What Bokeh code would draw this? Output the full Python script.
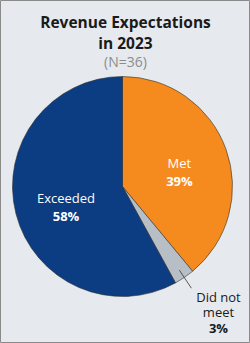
import math
from bokeh.plotting import figure
from bokeh.models import ColumnDataSource
from bokeh.core.properties import value
from bokeh.embed import file_html
from bokeh.resources import INLINE

# ---- data ----
title_lines = ["Revenue Expectations", "in 2023"]
subtitle = "(N=36)"
categories = ["Met", "Did not meet", "Exceeded"]
shares = [39, 3, 58]
colors = ["#F58A1F", "#B8BEC5", "#0C3C82"]

W, H = 250, 343
FONT = "Open Sans"

p = figure(width=W, height=H, x_range=(0, W), y_range=(0, H),
           output_backend="svg", toolbar_location=None, min_border=0)
p.axis.visible = False
p.grid.visible = False
p.background_fill_color = "#E6EAEE"
p.border_fill_color = "#E6EAEE"
p.outline_line_color = "#8A8A8A"
p.outline_line_width = 1


def Y(py):
    return H - py


cx, cy, R = 122, Y(186), 110

# angles: start at 12 o'clock, go clockwise
total = sum(shares)
starts, ends, mids = [], [], []
acc = 0.0
for s in shares:
    a0 = math.pi / 2 - 2 * math.pi * acc / total
    acc += s
    a1 = math.pi / 2 - 2 * math.pi * acc / total
    starts.append(a0)
    ends.append(a1)
    mids.append((a0 + a1) / 2)

src = ColumnDataSource(dict(start=starts, end=ends, color=colors))
p.wedge(x=cx, y=cy, radius=R, start_angle="start", end_angle="end",
        direction="clock", fill_color="color", line_color="#333333",
        line_width=0.6, source=src)

# title
p.text(x=[W / 2, W / 2], y=[Y(21), Y(42)], text=title_lines, text_font=value(FONT),
       text_font_style="bold", text_font_size="15.5px", text_color="#1A1A1A",
       text_align="center", text_baseline="alphabetic")
p.text(x=[W / 2], y=[Y(61)], text=[subtitle], text_font=value(FONT),
       text_font_size="14px", text_color="#8C8C8C",
       text_align="center", text_baseline="alphabetic")


def lab(i, rf):
    return cx + rf * R * math.cos(mids[i]), cy + rf * R * math.sin(mids[i])


for i, rf in [(0, 0.55), (2, 0.53)]:
    lx, ly = lab(i, rf)
    p.text(x=[lx], y=[ly + 3], text=[categories[i]], text_font=value(FONT),
           text_font_size="13px", text_color="white", text_align="center",
           text_baseline="alphabetic")
    p.text(x=[lx], y=[ly - 15], text=[f"{shares[i]}%"], text_font=value(FONT),
           text_font_style="bold", text_font_size="13px", text_color="white",
           text_align="center", text_baseline="alphabetic")

# outside label for the small slice with a leader line
i = 1
ex, ey = lab(i, 0.92)
p.line(x=[ex, ex + 12], y=[ey, ey - 18], line_color="#333333", line_width=0.8)
p.text(x=[218, 218], y=[Y(296), Y(311)], text=["Did not", "meet"], text_font=value(FONT),
       text_font_size="13px", text_color="#1A1A1A", text_align="center",
       text_baseline="alphabetic")
p.text(x=[218], y=[Y(327)], text=[f"{shares[i]}%"], text_font=value(FONT),
       text_font_style="bold", text_font_size="13px", text_color="#1A1A1A",
       text_align="center", text_baseline="alphabetic")

open("out.html", "w").write(file_html(p, INLINE))
